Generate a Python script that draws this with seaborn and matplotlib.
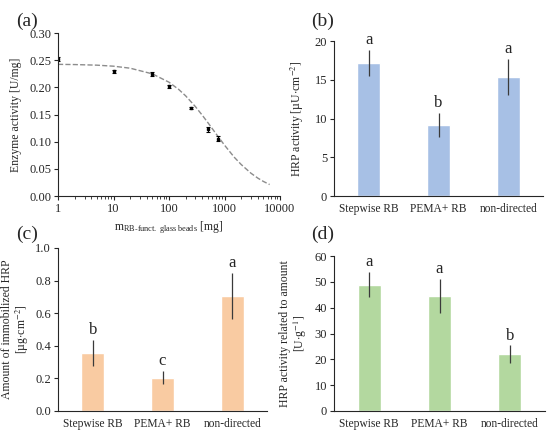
import numpy as np
import pandas as pd
import seaborn as sns
import matplotlib
matplotlib.use('Agg')
import matplotlib.pyplot as plt
from matplotlib.ticker import FixedLocator, LogLocator, NullFormatter, FuncFormatter

# (a) enzyme activity vs mass of beads
mass = [1, 10, 50, 100, 250, 500, 750]
activity = [0.252, 0.230, 0.225, 0.202, 0.163, 0.123, 0.106]
activity_err = [0.004, 0.003, 0.003, 0.003, 0.002, 0.004, 0.005]
fit_x = [1, 2, 5, 10, 20, 50, 100, 150, 200, 300, 400, 500, 700, 1000,
         1500, 2000, 3000, 4000, 5000, 6500]
fit_y = [0.2426, 0.2422, 0.2411, 0.2392, 0.2355, 0.2251, 0.2097, 0.1963,
         0.1845, 0.1646, 0.1486, 0.1355, 0.1151, 0.0939, 0.0716, 0.0582,
         0.0422, 0.0331, 0.0272, 0.0214]

# bar panels
methods = ['Stepwise RB', 'PEMA+ RB', 'non-directed']
hrp_activity = [17.2, 9.2, 15.4]
hrp_activity_err = [1.7, 1.5, 2.3]
hrp_activity_sig = ['a', 'b', 'a']
hrp_amount = [0.355, 0.205, 0.704]
hrp_amount_err = [0.08, 0.04, 0.14]
hrp_amount_sig = ['b', 'c', 'a']
hrp_specific = [48.9, 44.5, 22.0]
hrp_specific_err = [4.8, 6.7, 3.4]
hrp_specific_sig = ['a', 'a', 'b']

sns.set_style('ticks')
plt.rcParams['font.family'] = ['Liberation Serif', 'DejaVu Serif']
plt.rcParams['mathtext.fontset'] = 'stix'
plt.rcParams['font.size'] = 9

fig = plt.figure(figsize=(5.5, 4.34), dpi=100)

# ---- (a)
ax = fig.add_axes([0.1055, 0.548, 0.4036, 0.3756])
sns.lineplot(x=fit_x, y=fit_y, ax=ax, color='#8c8c8c', linestyle='--', linewidth=1)
ax.errorbar(mass, activity, yerr=activity_err, fmt='s', color='black', ms=1.8,
            capsize=1.6, elinewidth=0.8, capthick=0.8)
ax.set_xscale('log')
ax.set_xlim(1, 10000)
ax.set_ylim(0, 0.30)
ax.set_yticks(np.arange(0, 0.31, 0.05))
ax.yaxis.set_major_formatter(FuncFormatter(lambda v, p: f'{v:.2f}'))
ax.xaxis.set_major_locator(FixedLocator([1, 10, 100, 1000, 10000]))
ax.xaxis.set_major_formatter(FuncFormatter(lambda v, p: f'{int(v)}'))
ax.xaxis.set_minor_locator(LogLocator(base=10, subs=np.arange(2, 10)))
ax.xaxis.set_minor_formatter(NullFormatter())
ax.set_ylabel('Enzyme activity [U/mg]', labelpad=5, fontsize=8.5)
ax.set_xlabel(r'm$_{\mathregular{RB\text{-}funct.\ glass\ beads}}$ [mg]',
              labelpad=3, fontsize=8.5)
sns.despine(ax=ax)
ax.tick_params(length=3, width=0.8, pad=2)
ax.tick_params(which='minor', length=2, width=0.6)


def bar_panel(rect, values, errs, sig, color, ylim, yticks, ylabel, fmt, pad):
    ax = fig.add_axes(rect)
    df = pd.DataFrame({'method': methods, 'value': values})
    sns.barplot(data=df, x='method', y='value', ax=ax, color=color,
                width=0.33, saturation=1, errorbar=None)
    ax.errorbar(range(len(methods)), values, yerr=errs, fmt='none',
                ecolor='#3a3a3a', elinewidth=0.9, capsize=0)
    off = (ylim[1] - ylim[0]) * 0.012
    for i, (v, e, s) in enumerate(zip(values, errs, sig)):
        ax.text(i, v + e + off, s, ha='center', va='bottom', fontsize=12)
    ax.set_xlim(-0.5, 2.5)
    ax.set_ylim(*ylim)
    ax.set_yticks(yticks)
    ax.yaxis.set_major_formatter(FuncFormatter(lambda v, p: fmt.format(v)))
    ax.set_xlabel('')
    ax.set_ylabel(ylabel, labelpad=pad, linespacing=1.05, fontsize=8.5)
    sns.despine(ax=ax)
    ax.tick_params(axis='x', length=0, pad=5, labelsize=8.3)
    ax.tick_params(axis='y', length=3, width=0.8, pad=2)
    return ax


bar_panel([0.6073, 0.548, 0.38, 0.357], hrp_activity, hrp_activity_err,
          hrp_activity_sig, '#a7c0e5', (0, 20), [0, 5, 10, 15, 20],
          r'HRP activity [µU$\cdot$cm$^{-2}$]', '{:.0f}', 6)
bar_panel([0.1055, 0.053, 0.38, 0.3756], hrp_amount, hrp_amount_err,
          hrp_amount_sig, '#f9cba2', (0, 1.0), np.arange(0, 1.01, 0.2),
          'Amount of immobilized HRP\n' + r'[µg$\cdot$cm$^{-2}$]', '{:.1f}', 3)
bar_panel([0.6073, 0.053, 0.3836, 0.357], hrp_specific, hrp_specific_err,
          hrp_specific_sig, '#b3d89f', (0, 60), [0, 10, 20, 30, 40, 50, 60],
          'HRP activity related to amount\n' + r'[U$\cdot$g$^{-1}$]', '{:.0f}', 4)

for lbl, x, y in [('(a)', 0.03, 0.97), ('(b)', 0.565, 0.97),
                  ('(c)', 0.03, 0.48), ('(d)', 0.565, 0.48)]:
    fig.text(x, y, lbl, fontsize=14, ha='left', va='top')

fig.savefig('out.png', dpi=100)
